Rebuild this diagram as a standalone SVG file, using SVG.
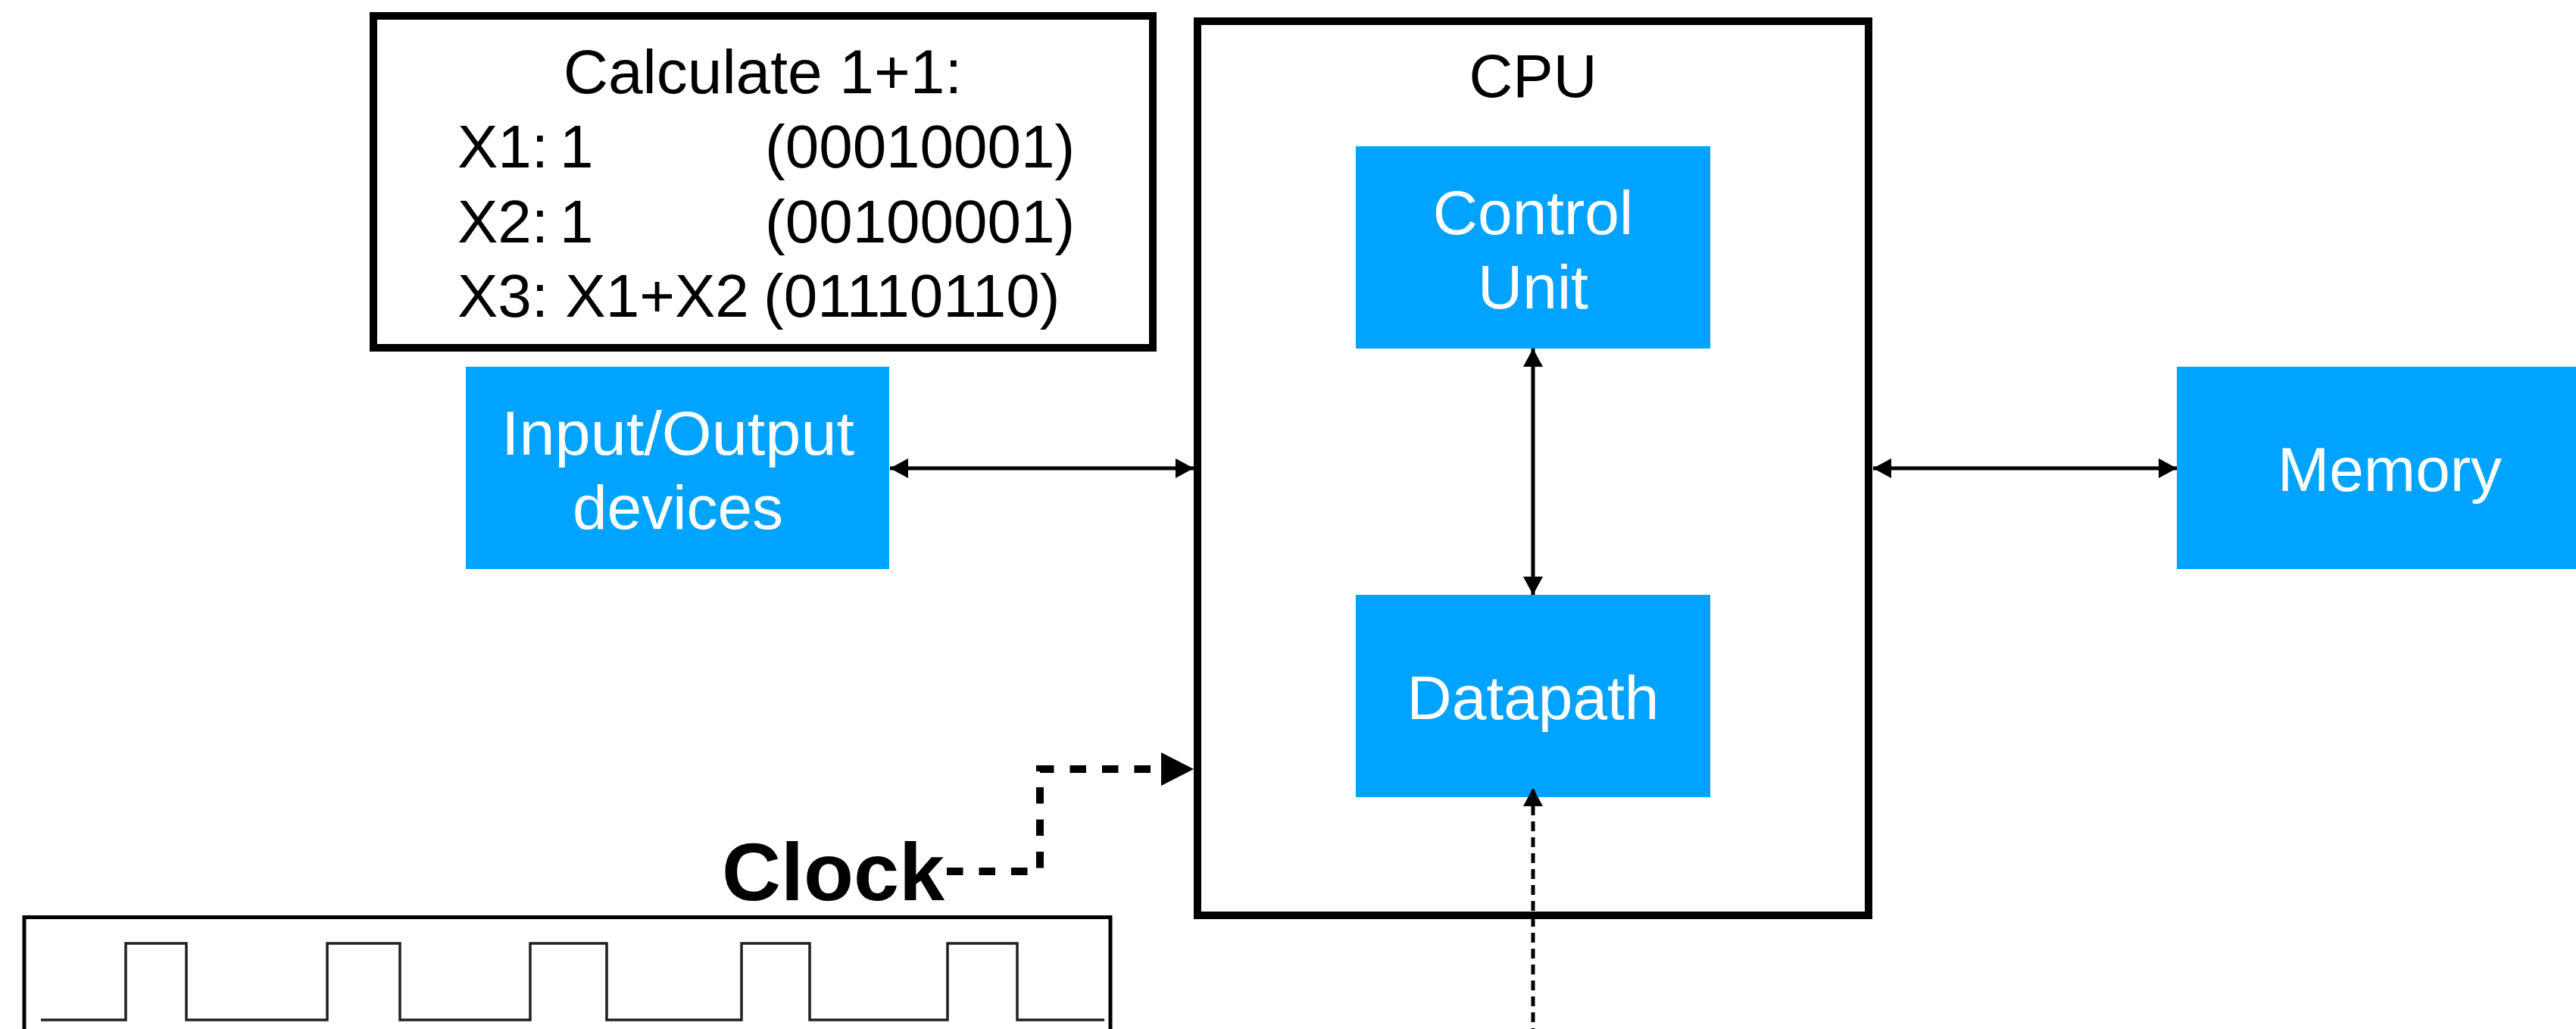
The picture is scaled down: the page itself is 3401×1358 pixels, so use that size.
<svg xmlns="http://www.w3.org/2000/svg" width="3401" height="1358" viewBox="0 0 3401 1358">
<style>
text{font-family:"Liberation Sans",Arial,Helvetica,sans-serif;}
.blk{fill:#000;font-size:80px;}
.wht{fill:#fff;font-size:82px;text-anchor:middle;}
.blue{fill:#00A3FF;}
.frame{fill:none;stroke:#000;stroke-width:10;}
.conn{fill:none;stroke:#000;stroke-width:5;}
</style>
<defs>
<marker id="ah" markerUnits="userSpaceOnUse" markerWidth="26" markerHeight="28" refX="24" refY="13" orient="auto-start-reverse" viewBox="0 0 26 26">
<path d="M0,0 L24,13 L0,26 Z" fill="#000"/>
</marker>
</defs>
<rect width="3401" height="1358" fill="#fff"/>

<g id="program">
<rect class="frame" x="493" y="21" width="1029" height="438"/>
<text class="blk" x="1007" y="123" text-anchor="middle" style="font-size:82px">Calculate 1+1:</text>
<text class="blk" y="221"><tspan x="604">X1:</tspan><tspan x="739">1</tspan><tspan x="1010">(00010001)</tspan></text>
<text class="blk" y="320"><tspan x="604">X2:</tspan><tspan x="739">1</tspan><tspan x="1010">(00100001)</tspan></text>
<text class="blk" y="418"><tspan x="604">X3: X1+X2</tspan><tspan x="1008">(01110110)</tspan></text>
</g>

<g id="io">
<rect class="blue" x="615" y="484" width="559" height="267"/>
<text class="wht" x="895" y="600" textLength="466" lengthAdjust="spacingAndGlyphs">Input/Output</text>
<text class="wht" x="895" y="698">devices</text>
</g>

<g id="cpu">
<rect class="frame" x="1581" y="28" width="886" height="1180"/>
<text class="blk" x="2024" y="128" text-anchor="middle">CPU</text>
</g>

<g id="control-unit">
<rect class="blue" x="1790" y="193" width="468" height="267"/>
<text class="wht" x="2024" y="309">Control</text>
<text class="wht" x="2024" y="407">Unit</text>
</g>

<g id="datapath">
<rect class="blue" x="1790" y="785" width="468" height="267"/>
<text class="wht" x="2024" y="949">Datapath</text>
</g>

<g id="memory">
<rect class="blue" x="2874" y="484" width="560" height="267"/>
<text class="wht" x="3155" y="648">Memory</text>
</g>

<g id="clock">
<text x="953" y="1188" style="font-size:108px;font-weight:bold" fill="#000">Clock</text>
<rect x="32" y="1210.5" width="1434" height="200" fill="none" stroke="#000" stroke-width="5"/>
<polyline fill="none" stroke="#231f20" stroke-width="3.5" points="54,1346 166,1346 166,1245 246,1245 246,1346 432,1346 432,1245 528,1245 528,1346 700,1346 700,1245 801,1245 801,1346 979,1346 979,1245 1069,1245 1069,1346 1251,1346 1251,1245 1343,1245 1343,1346 1458,1346"/>
</g>

<g id="connectors">
<line class="conn" x1="1175" y1="618" x2="1576" y2="618" marker-start="url(#ah)" marker-end="url(#ah)"/>
<line class="conn" x1="2473" y1="618" x2="2874" y2="618" marker-start="url(#ah)" marker-end="url(#ah)"/>
<line class="conn" x1="2024" y1="460" x2="2024" y2="785" marker-start="url(#ah)" marker-end="url(#ah)"/>
<line class="conn" x1="2024" y1="1370" x2="2024" y2="1040" stroke-dasharray="13 8" marker-end="url(#ah)"/>
<path d="M1250,1150 H1373 V1015 H1576" fill="none" stroke="#000" stroke-width="10" stroke-dasharray="21.5 21 21.5 21 21.5 21 21.5 21 21.5 21 21.5 21 21.5 21 21.5 21 21.5 21 21.5 21 21.5 21 21.5 100"/>
<path d="M1533,993 L1576,1015 L1533,1037 Z" fill="#000"/>
</g>
</svg>
